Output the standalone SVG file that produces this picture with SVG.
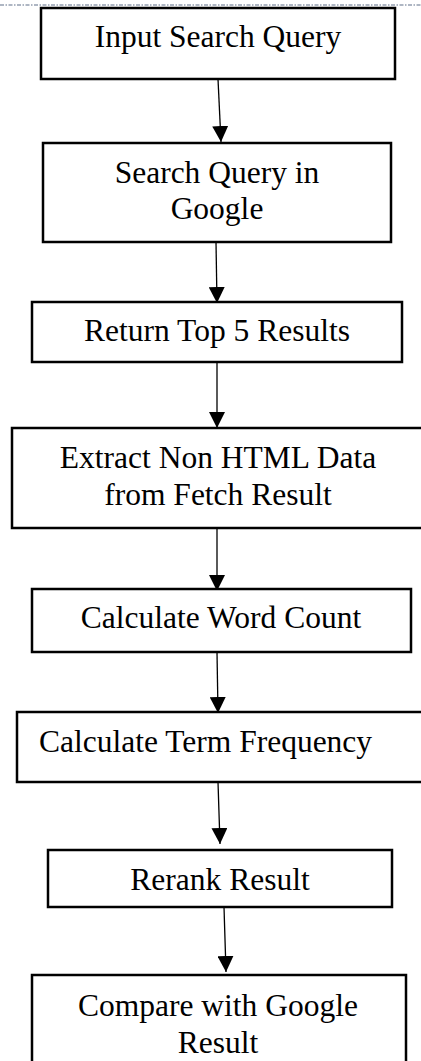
<svg xmlns="http://www.w3.org/2000/svg" width="421" height="1061" viewBox="0 0 421 1061">
<style>
.box{fill:#fff;stroke:#000;stroke-width:2.5}
.lbl{font-family:"Liberation Serif","Times New Roman",serif;font-size:31.5px;fill:#000;text-anchor:middle}
.conn{stroke:#000;stroke-width:1.3;fill:none;marker-end:url(#arr)}
</style>
<defs>
<marker id="arr" markerUnits="userSpaceOnUse" markerWidth="16" markerHeight="16" viewBox="0 0 15 15" refX="15" refY="7.5" orient="auto">
<path d="M0,0 L15,7.5 L0,15 z" fill="#000"/>
</marker>
</defs>
<rect width="421" height="1061" fill="#fff"/>
<line x1="0" y1="5" x2="421" y2="5" stroke="#5f6f88" stroke-width="1.2" stroke-dasharray="4 1.5 1.5 1.5"/>
<g id="connectors">
<line class="conn" x1="218" y1="79" x2="221" y2="142"/>
<line class="conn" x1="216" y1="242" x2="217" y2="303"/>
<line class="conn" x1="217" y1="363" x2="217" y2="428"/>
<line class="conn" x1="217" y1="528" x2="217" y2="591"/>
<line class="conn" x1="217" y1="652" x2="218" y2="713"/>
<line class="conn" x1="218" y1="782" x2="220" y2="844"/>
<line class="conn" x1="224" y1="907" x2="226" y2="972"/>
</g>
<g id="n1"><rect class="box" x="41" y="8" width="354" height="71"/><text class="lbl" x="218" y="47">Input Search Query</text></g>
<g id="n2"><rect class="box" x="43" y="143" width="348" height="99"/><text class="lbl" x="217" y="183">Search Query in</text><text class="lbl" x="217" y="219">Google</text></g>
<g id="n3"><rect class="box" x="32" y="302" width="370" height="60"/><text class="lbl" x="217" y="341">Return Top 5 Results</text></g>
<g id="n4"><rect class="box" x="12" y="428" width="412" height="100"/><text class="lbl" x="218" y="468">Extract Non HTML Data</text><text class="lbl" x="218" y="505">from Fetch Result</text></g>
<g id="n5"><rect class="box" x="32" y="589" width="379" height="63"/><text class="lbl" x="221" y="628">Calculate Word Count</text></g>
<g id="n6"><rect class="box" x="17" y="712" width="407" height="70"/><text class="lbl" x="39" y="752" style="text-anchor:start">Calculate Term Frequency</text></g>
<g id="n7"><rect class="box" x="48" y="850" width="344" height="57"/><text class="lbl" x="220" y="890">Rerank Result</text></g>
<g id="n8"><rect class="box" x="32" y="975" width="374" height="95"/><text class="lbl" x="218" y="1016">Compare with Google</text><text class="lbl" x="218" y="1053">Result</text></g>
</svg>
